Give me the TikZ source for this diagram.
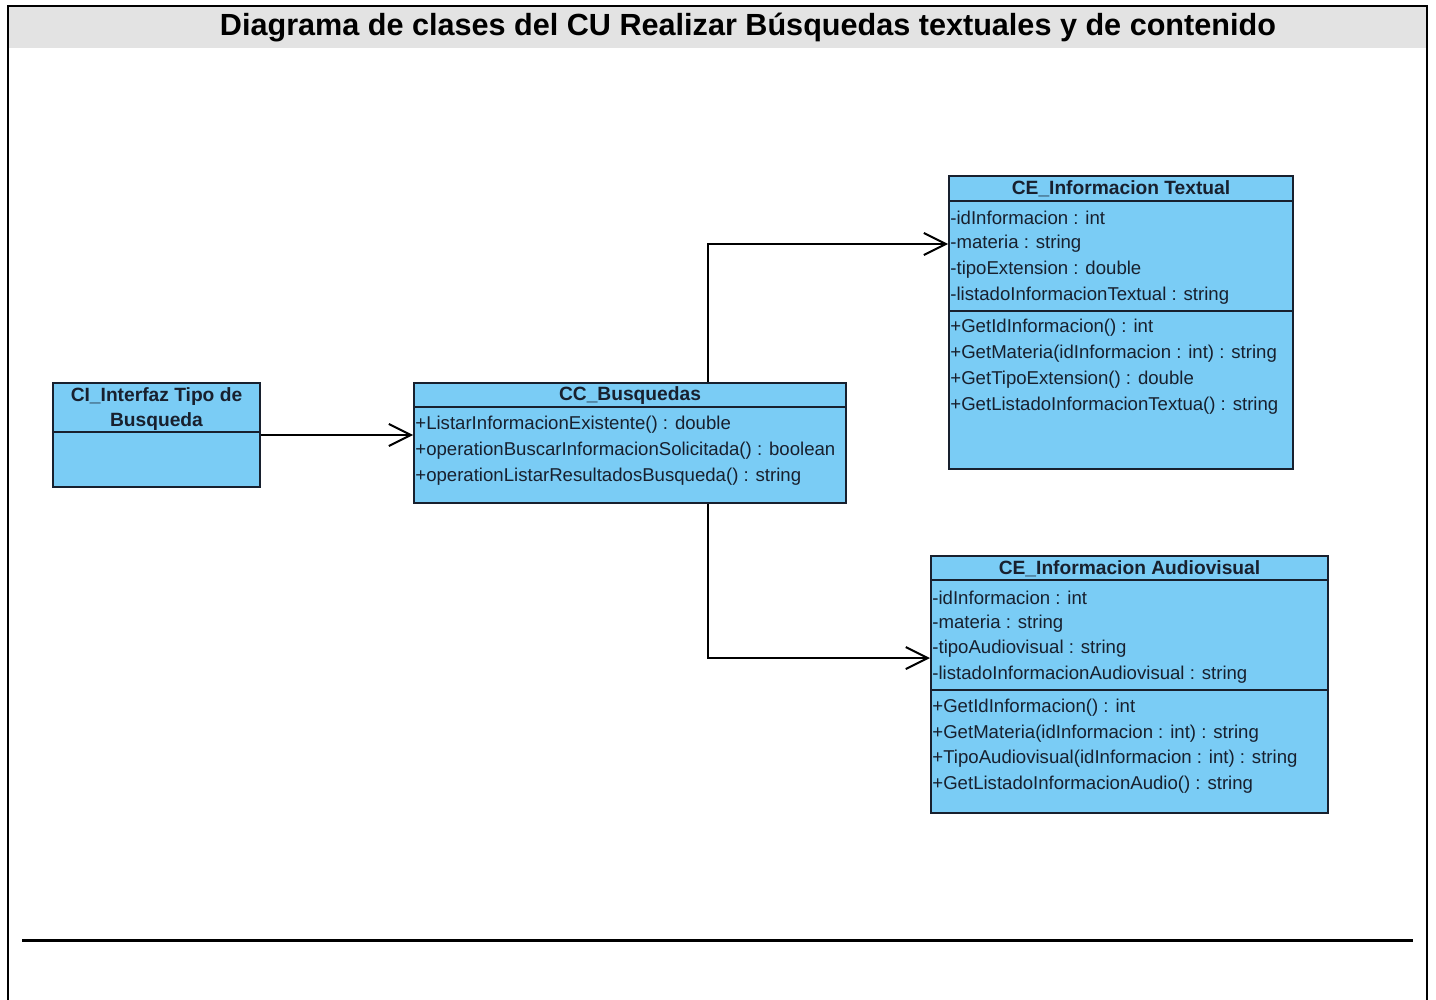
\documentclass[tikz,border=0pt]{standalone}
\usepackage{fontspec}
\setmainfont{Liberation Sans}
\usetikzlibrary{calc,positioning,arrows.meta}

\definecolor{umlblue}{RGB}{122,204,245}
\definecolor{umlline}{RGB}{24,32,46}
\definecolor{bandgray}{RGB}{227,227,227}

\tikzset{
	classbox/.style={draw=umlline, line width=1pt, fill=umlblue, rectangle, inner sep=0pt, anchor=north west},
	classname/.style={inner sep=0pt, align=center, text=umlline, font=\bfseries\fontsize{9.6}{12.5}\selectfont},
	member/.style={anchor=west, inner sep=0pt, text=umlline, font=\fontsize{9.3}{11}\selectfont},
	sepline/.style={draw=umlline, line width=1pt},
	assoc/.style={line width=1pt, -{Straight Barb[length=11pt,width=11pt]}},
}

\begin{document}
\begin{tikzpicture}[x=0.5pt,y=-0.5pt]
	\useasboundingbox (0,0) rectangle (1436,1000);
	% page frame and title band
	\fill[bandgray] (9,7) rectangle (1426,48);
	\draw[line width=1.3pt] (8,1000) -- (8,6) -- (1427,6) -- (1427,1000);
	\node[font=\bfseries\fontsize{15.3}{18}\selectfont] (title) at (748,28) {Diagrama de clases del CU Realizar Búsquedas textuales y de contenido};
	\draw[line width=1.5pt] (22,940) -- (1413,940);

	% interface class
	\node[classbox, minimum width=103.5pt, minimum height=52pt] (ci) at (52,382) {};
	\node[classname] (ci-name) at ($(ci.north)+(0,27.5)$) {CI\_Interfaz Tipo de\\Busqueda};
	\draw[sepline] ($(ci.north west)+(0,50)$) -- ($(ci.north east)+(0,50)$);

	% control class
	\node[classbox, minimum width=216pt, minimum height=60pt] (bus) at (413,382) {};
	\node[classname] (bus-name) at ($(bus.north)+(0,14)$) {CC\_Busquedas};
	\draw[sepline] ($(bus.north west)+(0,25)$) -- ($(bus.north east)+(0,25)$);
	\foreach \m [count=\i] in {{+ListarInformacionExistente() : double},
		{+operationBuscarInformacionSolicitada() : boolean},
		{+operationListarResultadosBusqueda() : string}} {
		\node[member] (bus-o\i) at ($(bus.north west)+(2,17+26*\i)$) {\m};
	};

	% entity: textual
	\node[classbox, minimum width=172pt, minimum height=146.5pt] (txt) at (948,175) {};
	\node[classname] (txt-name) at ($(txt.north)+(0,14)$) {CE\_Informacion Textual};
	\draw[sepline] ($(txt.north west)+(0,26)$) -- ($(txt.north east)+(0,26)$);
	\foreach \m [count=\i] in {{-idInformacion : int},{-materia : string},
		{-tipoExtension : double},{-listadoInformacionTextual : string}} {
		\node[member] (txt-a\i) at ($(txt.north west)+(2,17+26*\i)$) {\m};
	};
	\draw[sepline] ($(txt.north west)+(0,136)$) -- ($(txt.north east)+(0,136)$);
	\foreach \m [count=\i] in {{+GetIdInformacion() : int},
		{+GetMateria(idInformacion : int) : string},
		{+GetTipoExtension() : double},
		{+GetListadoInformacionTextua() : string}} {
		\node[member] (txt-o\i) at ($(txt.north west)+(2,127+26*\i)$) {\m};
	};

	% entity: audiovisual
	\node[classbox, minimum width=198.5pt, minimum height=128.5pt] (av) at (930,555) {};
	\node[classname] (av-name) at ($(av.north)+(0,14)$) {CE\_Informacion Audiovisual};
	\draw[sepline] ($(av.north west)+(0,25)$) -- ($(av.north east)+(0,25)$);
	\foreach \m [count=\i] in {{-idInformacion : int},{-materia : string},
		{-tipoAudiovisual : string},{-listadoInformacionAudiovisual : string}} {
		\node[member] (av-a\i) at ($(av.north west)+(2,17+25.7*\i)$) {\m};
	};
	\draw[sepline] ($(av.north west)+(0,135)$) -- ($(av.north east)+(0,135)$);
	\foreach \m [count=\i] in {{+GetIdInformacion() : int},
		{+GetMateria(idInformacion : int) : string},
		{+TipoAudiovisual(idInformacion : int) : string},
		{+GetListadoInformacionAudio() : string}} {
		\node[member] (av-o\i) at ($(av.north west)+(2,127+25.7*\i)$) {\m};
	};

	% associations
	\coordinate (split) at ($(bus.north)+(78,0)$);
	\draw[assoc] (ci.east) -- (ci.east -| bus.west);
	\draw[assoc] (bus.north -| split) |- (txt.west |- txt-a2);
	\draw[assoc] (bus.south -| split) |- ($(av.west |- av-a3)+(0,9)$);
\end{tikzpicture}
\end{document}
